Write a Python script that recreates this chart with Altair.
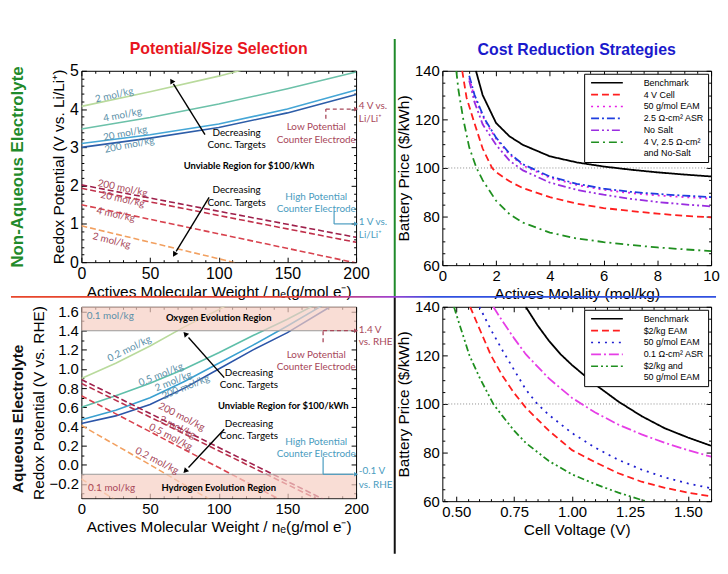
import math
import numpy as np
import pandas as pd
import altair as alt

FONT = "Liberation Sans"
SANS = "Liberation Sans"
AFONT = "Lato"

# ---------------- top-left: non-aqueous electrolyte ----------------
na_solid_names = ["2 mol/kg", "4 mol/kg", "20 mol/kg", "200 mol/kg"]
na_solid_x = [[0, 50, 100, 120], [0, 50, 100, 150, 200], [0, 50, 100, 150, 200], [0, 50, 100, 150, 200]]
na_solid_y = [[4.07, 4.45, 4.86, 5.05], [3.48, 3.78, 4.13, 4.53, 4.97],
              [3.10, 3.33, 3.61, 4.00, 4.50], [3.00, 3.24, 3.52, 3.90, 4.38]]
na_solid_colors = ["#b9da9c", "#6cc1a9", "#45a6d6", "#2d5da8"]

na_dash_names = ["200 mol/kg", "20 mol/kg", "4 mol/kg", "2 mol/kg"]
na_dash_x = [[0, 100, 200], [0, 100, 200], [0, 100, 200], [0, 50, 100, 120]]
na_dash_y = [[2.02, 1.33, 0.65], [1.93, 1.22, 0.52], [1.50, 0.74, -0.02], [0.95, 0.52, 0.09, -0.09]]
na_dash_colors = ["#9e1f4a", "#c0304a", "#d8424e", "#f2a060"]

na_lab_text = ["2 mol/kg", "4 mol/kg", "20 mol/kg", "200 mol/kg",
               "200 mol/kg", "20 mol/kg", "4 mol/kg", "2 mol/kg"]
na_lab_x = [24, 30, 32, 35, 30, 30, 25, 22]
na_lab_y = [4.36, 3.84, 3.36, 3.06, 1.93, 1.64, 1.24, 0.56]
na_lab_angle = [347, 349, 349, 349, 12, 12, 12, 14]

# ---------------- bottom-left: aqueous electrolyte ----------------
aq_solid_x = [[0, 25, 50, 75, 100, 110],
              [0, 25, 50, 75, 100, 125, 150, 170],
              [0, 25, 50, 75, 100, 125, 150, 175],
              [0, 25, 50, 75, 100, 125, 150, 180]]
aq_solid_y = [[0.90, 1.06, 1.24, 1.44, 1.62, 1.70],
              [0.60, 0.72, 0.85, 1.00, 1.17, 1.35, 1.52, 1.67],
              [0.47, 0.57, 0.70, 0.87, 1.06, 1.25, 1.45, 1.66],
              [0.43, 0.51, 0.63, 0.80, 1.00, 1.20, 1.38, 1.64]]
aq_solid_colors = ["#b9da9c", "#5fbfaa", "#3aa0d0", "#2b55a8"]

aq_dash_x = [[0, 100, 200], [0, 100, 200], [0, 100, 200], [0, 50, 100], [0, 25]]
aq_dash_y = [[0.89, 0.18, -0.53], [0.85, 0.145, -0.56], [0.72, -0.03, -0.78],
             [0.41, 0.0, -0.42], [-0.15, -0.37]]
aq_dash_colors = ["#9e1f4a", "#b8304c", "#d8424e", "#f2a060", "#f5b070"]

aq_lab_text = ["0.1 mol/kg", "0.2 mol/kg", "0.5 mol/kg", "2 mol/kg", "200 mol/kg",
               "200 mol/kg", "2 mol/kg", "0.5 mol/kg", "0.2 mol/kg", "0.1 mol/kg"]
aq_lab_x = [21, 35, 58, 67, 76, 73, 70, 65, 55, 22]
aq_lab_y = [1.55, 1.21, 0.94, 0.87, 0.81, 0.50, 0.39, 0.29, 0.04, -0.24]
aq_lab_angle = [0, 334, 338, 338, 338, 27, 27, 27, 27, 0]

# ---------------- top-right: cost reduction vs molality ----------------
tr_names = ["Benchmark", "4 V Cell", "50 g/mol EAM", "2.5 Ω-cm² ASR", "No Salt",
            "4 V, 2.5 Ω-cm²|and No-Salt"]
tr_x = [[1.25, 1.5, 2, 2.5, 3, 4, 5, 6, 7, 8, 9, 10],
        [0.74, 0.9, 1.15, 1.5, 1.85, 2, 2.5, 3, 4, 5, 6, 7, 8, 9, 10],
        [1.0, 1.2, 1.58, 2, 2.5, 3, 4, 5, 6, 7, 8, 9, 10],
        [1.0, 1.2, 1.58, 2, 2.5, 3, 4, 5, 6, 7, 8, 9, 10],
        [1.0, 1.2, 1.5, 2, 2.5, 3, 4, 5, 6, 7, 8, 9, 10],
        [0.52, 0.6, 0.78, 1.0, 1.27, 1.5, 2, 2.5, 3, 4, 5, 6, 7, 8, 9, 10]]
tr_y = [[140, 130, 118.5, 113, 109.5, 104.8, 102.3, 100.6, 99.3, 98.2, 97.3, 96.5],
        [140, 129, 120, 108, 100, 98.3, 94.5, 91.7, 88, 85.3, 83.5, 82.3, 81.2, 80.3, 79.7],
        [137, 129, 119.5, 112, 105.5, 101, 96, 93, 91, 89.7, 88.7, 88, 87.4],
        [138, 130, 120, 112.5, 106, 101.5, 96.5, 93.5, 91.5, 90.2, 89.3, 88.6, 88],
        [136, 127, 118, 109.5, 103, 99, 94, 91, 89, 87.3, 86, 85, 84.2],
        [140, 132, 120, 108.5, 100, 95, 86.5, 81, 77.5, 73.4, 71, 69.5, 68.3, 67.3, 66.5, 65.8]]
tr_colors = ["#000000", "#ff1f1f", "#e61ee6", "#1f3fdf", "#9a2de0", "#1f8f1f"]
tr_dashes = [[1, 0], [7, 4], [2, 4], [8, 3, 2, 3], [8, 3, 2, 3, 2, 3], [8, 4, 2, 4]]

# ---------------- bottom-right: cost vs cell voltage ----------------
br_names = ["Benchmark", "$2/kg EAM", "50 g/mol EAM", "0.1 Ω-cm² ASR", "$2/kg and|50 g/mol EAM"]
br_x = [[0.80, 0.85, 0.9, 0.95, 1.0, 1.1, 1.2, 1.3, 1.4, 1.5, 1.6],
        [0.56, 0.6, 0.65, 0.7, 0.75, 0.8, 0.9, 1.0, 1.1, 1.2, 1.3, 1.4, 1.5, 1.6],
        [0.6, 0.65, 0.7, 0.75, 0.8, 0.85, 0.9, 1.0, 1.1, 1.2, 1.3, 1.4, 1.5, 1.6],
        [0.66, 0.7, 0.75, 0.8, 0.9, 1.0, 1.1, 1.2, 1.3, 1.4, 1.5, 1.6],
        [0.49, 0.52, 0.557, 0.6, 0.66, 0.7, 0.75, 0.8, 0.9, 1.0, 1.1, 1.2, 1.3, 1.35]]
br_y = [[140, 132.5, 126, 120.5, 116, 108, 101, 95, 90, 86.2, 82.8],
        [140, 131, 120, 111.5, 104.5, 98.5, 89, 81, 76, 71.5, 68, 65.5, 63.5, 62],
        [140, 130.5, 122, 114, 106, 100, 95.5, 88, 82, 77, 73, 69.8, 67.3, 65.3],
        [140, 134, 127, 120.5, 110.5, 102.5, 96.5, 91.5, 87.5, 84, 81, 78.3],
        [140, 131, 120, 111, 100, 95, 89, 84, 76.5, 71, 67, 63.5, 60.5, 59]]
br_colors = ["#000000", "#ff1f1f", "#1f1fd0", "#e63ee6", "#1f8f1f"]
br_dashes = [[1, 0], [7, 4], [2, 5], [10, 3, 2, 3], [7, 3, 2, 3, 2, 3]]


# ---------------- helpers ----------------
def rng(a, b, step):
    return [round(float(v), 6) for v in np.arange(a, b + step / 2, step)]


def make_axis(majors, minors, fmt, orient, title=None, labels=True, lsize=15, pad=8, tpad=2):
    vals = sorted({round(float(v), 6) for v in list(majors) + list(minors)})
    arr = "[" + ",".join(repr(round(float(m), 6)) for m in majors) + "]"
    test = f"indexof({arr}, datum.value) >= 0"
    kw = dict(orient=orient, values=vals, domain=False, grid=False, ticks=True,
              tickColor="black", tickWidth=1,
              tickSize={"condition": {"test": test, "value": -5}, "value": -2.5},
              labels=labels, labelOverlap=False, labelFlush=False, title=title)
    if labels:
        kw.update(labelExpr=f"{test} ? format(datum.value, '{fmt}') : ''", labelFont=FONT,
                  labelFontSize=lsize, labelColor="black", labelPadding=pad)
    if title:
        kw.update(titleFont=FONT, titleFontSize=15.5, titleFontWeight="normal", titleColor="black",
                  titlePadding=tpad)
    return alt.Axis(**kw)


def frame_layers(xsc, ysc, xmaj, xmin, ymaj, ymin, xfmt, yfmt, xtitle, ytitle, lsize, x0, y0,
                 xpad=8, ypad=8, xtpad=1, ytpad=3):
    base = alt.Chart(pd.DataFrame({"x": [x0], "y": [y0]})).mark_point(opacity=0)
    main = base.encode(
        x=alt.X("x:Q", scale=xsc, axis=make_axis(xmaj, xmin, xfmt, "bottom", xtitle, True, lsize, xpad, xtpad)),
        y=alt.Y("y:Q", scale=ysc, axis=make_axis(ymaj, ymin, yfmt, "left", ytitle, True, lsize, ypad, ytpad)))
    mirror = base.encode(
        x=alt.X("x:Q", scale=xsc, axis=make_axis(xmaj, xmin, xfmt, "top", None, False)),
        y=alt.Y("y:Q", scale=ysc, axis=make_axis(ymaj, ymin, yfmt, "right", None, False)))
    return [main, mirror]


def line_layer(xs, ys, color, dash, xsc, ysc, width=1.4):
    props = dict(color=color, strokeWidth=width, clip=True)
    if dash:
        props["strokeDash"] = dash
    return alt.Chart(pd.DataFrame({"x": xs, "y": ys})).mark_line(**props).encode(
        x=alt.X("x:Q", scale=xsc, axis=None), y=alt.Y("y:Q", scale=ysc, axis=None))


def text_layer(xs, ys, texts, colors, angles, xsc, ysc, size=10, weight="normal", align="center",
               font=AFONT):
    df = pd.DataFrame({"x": xs, "y": ys, "t": texts, "c": colors, "a": angles})
    return alt.Chart(df).mark_text(font=font, fontSize=size, fontWeight=weight, align=align,
                                   baseline="middle").encode(
        x=alt.X("x:Q", scale=xsc, axis=None), y=alt.Y("y:Q", scale=ysc, axis=None),
        text="t:N", color=alt.Color("c:N", scale=None), angle=alt.Angle("a:Q", scale=None))


def seg_layer(x1, y1, x2, y2, color, xsc, ysc, dash=None, width=1.3):
    props = dict(color=color, strokeWidth=width)
    if dash:
        props["strokeDash"] = dash
    df = pd.DataFrame({"x": x1, "y": y1, "x2": x2, "y2": y2})
    return alt.Chart(df).mark_rule(**props).encode(
        x=alt.X("x:Q", scale=xsc, axis=None), y=alt.Y("y:Q", scale=ysc, axis=None),
        x2="x2:Q", y2="y2:Q")


def head_layer(xs, ys, angles, color, xsc, ysc, size=30):
    df = pd.DataFrame({"x": xs, "y": ys, "a": angles})
    return alt.Chart(df).mark_point(shape="triangle", filled=True, size=size, color=color,
                                    opacity=1, strokeWidth=0).encode(
        x=alt.X("x:Q", scale=xsc, axis=None), y=alt.Y("y:Q", scale=ysc, axis=None),
        angle=alt.Angle("a:Q", scale=None))


def head_angle(x1, y1, x2, y2, sx, sy):
    dx = (x2 - x1) * sx
    dys = -(y2 - y1) * sy
    return math.degrees(math.atan2(dx, -dys)) % 360


# ---------------- sizes ----------------
WL, HL = 277, 193
WR, HR = 271, 196

# ================= TOP-LEFT =================
xs_tl = alt.Scale(domain=[0, 200], nice=False, zero=False)
ys_tl = alt.Scale(domain=[0, 5], nice=False, zero=False)
sx_tl, sy_tl = WL / 200, HL / 5

tl_layers = frame_layers(xs_tl, ys_tl, rng(0, 200, 50), rng(0, 200, 10), rng(0, 5, 1), rng(0, 5, 0.2),
                         "d", "d", "Actives Molecular Weight / nₑ(g/mol e⁻)",
                         "Redox Potential (V vs. Li/Li⁺)", 16, 100, 2.5)
for xs_, ys_, c in zip(na_solid_x, na_solid_y, na_solid_colors):
    tl_layers.append(line_layer(xs_, ys_, c, None, xs_tl, ys_tl, 1.6))
for xs_, ys_, c in zip(na_dash_x, na_dash_y, na_dash_colors):
    tl_layers.append(line_layer(xs_, ys_, c, [6, 3], xs_tl, ys_tl, 1.6))
tl_layers.append(text_layer(na_lab_x, na_lab_y, na_lab_text,
                            ["#5a8fa8"] * 4 + ["#a8485a"] * 4, na_lab_angle, xs_tl, ys_tl, 10))
tl_layers.append(text_layer([113, 113, 113, 113], [3.38, 3.07, 1.88, 1.55],
                            ["Decreasing", "Conc. Targets", "Decreasing", "Conc. Targets"],
                            ["black"] * 4, [0] * 4, xs_tl, ys_tl, 10))
tl_layers.append(text_layer([122], [2.52], ["Unviable Region for $100/kWh"], ["black"], [0],
                            xs_tl, ys_tl, 9.5, "bold"))
tl_layers.append(text_layer([171, 171, 171, 171], [3.52, 3.18, 1.69, 1.38],
                            ["Low Potential", "Counter Electrode", "High Potential", "Counter Electrode"],
                            ["#a8485a", "#a8485a", "#4a9cc0", "#4a9cc0"], [0] * 4, xs_tl, ys_tl, 10))
tl_layers.append(text_layer([202, 202, 202, 202], [4.07, 3.75, 1.05, 0.72],
                            ["4 V vs.", "Li/Li⁺", "1 V vs.", "Li/Li⁺"],
                            ["#a8485a", "#a8485a", "#4a9cc0", "#4a9cc0"], [0] * 4, xs_tl, ys_tl, 10,
                            align="left"))
tl_layers.append(seg_layer([90, 93], [3.33, 1.69], [67, 69], [4.66, 0.28], "black", xs_tl, ys_tl, width=1.4))
tl_layers.append(head_layer([66, 68], [4.72, 0.22],
                            [head_angle(90, 3.33, 66, 4.72, sx_tl, sy_tl),
                             head_angle(93, 1.69, 68, 0.22, sx_tl, sy_tl)], "black", xs_tl, ys_tl, 35))
tl_layers.append(seg_layer([178, 178], [3.75, 4.0], [178, 198], [4.0, 4.0], "#a8485a", xs_tl, ys_tl,
                           dash=[4, 3], width=1.3))
tl_layers.append(seg_layer([184, 184], [1.33, 1.0], [184, 198], [1.0, 1.0], "#4a9cc0", xs_tl, ys_tl,
                           width=1.2))
tl_layers.append(head_layer([199.5], [4.0], [90], "#a8485a", xs_tl, ys_tl, 22))
tl_layers.append(head_layer([199.5], [1.0], [90], "#4a9cc0", xs_tl, ys_tl, 22))

one = pd.DataFrame({"t": ["Non-Aqueous Electrolyte"]})
tl_layers.append(alt.Chart(one).mark_text(angle=270, font=SANS, fontSize=17, fontWeight="bold",
                                          color="#1f8a2a").encode(
    text="t:N", x=alt.value(-64), y=alt.value(97)))

TL = alt.layer(*tl_layers).resolve_axis(x="independent", y="independent").properties(
    width=WL, height=HL,
    title=alt.Title("Potential/Size Selection", color="#e8161e", font=FONT, fontSize=16,
                    fontWeight="bold", offset=6, frame="group"))

# ================= BOTTOM-LEFT =================
xs_bl = alt.Scale(domain=[0, 200], nice=False, zero=False)
ys_bl = alt.Scale(domain=[-0.35, 1.65], nice=False, zero=False)
sx_bl, sy_bl = WL / 200, HL / 2.0

bl_layers = frame_layers(xs_bl, ys_bl, rng(0, 200, 50), rng(0, 200, 10), rng(-0.2, 1.6, 0.2),
                         rng(-0.3, 1.6, 0.1), "d", ".1f", "Actives Molecular Weight / nₑ(g/mol e⁻)",
                         "Redox Potential (V vs. RHE)", 15, 100, 0.5)
for xs_, ys_, c in zip(aq_solid_x, aq_solid_y, aq_solid_colors):
    bl_layers.append(line_layer(xs_, ys_, c, None, xs_bl, ys_bl, 1.6))
for xs_, ys_, c in zip(aq_dash_x, aq_dash_y, aq_dash_colors):
    bl_layers.append(line_layer(xs_, ys_, c, [6, 3], xs_bl, ys_bl, 1.6))
reg = pd.DataFrame({"x": [0, 0], "x2": [200, 200], "y": [1.4, -0.35], "y2": [1.65, -0.1]})
bl_layers.append(alt.Chart(reg).mark_rect(fill="#f7cfc3", opacity=0.7).encode(
    x=alt.X("x:Q", scale=xs_bl, axis=None), x2="x2:Q",
    y=alt.Y("y:Q", scale=ys_bl, axis=None), y2="y2:Q"))
bl_layers.append(alt.Chart(pd.DataFrame({"y": [1.4, -0.1]})).mark_rule(color="#9a9a9a", strokeWidth=1.2).encode(
    y=alt.Y("y:Q", scale=ys_bl, axis=None)))
bl_layers.append(text_layer(aq_lab_x, aq_lab_y, aq_lab_text,
                            ["#5a8fa8"] * 5 + ["#a8485a"] * 5, aq_lab_angle, xs_bl, ys_bl, 10))
bl_layers.append(text_layer([100, 100, 147], [1.53, -0.24, 0.61],
                            ["Oxygen Evolution Region", "Hydrogen Evolution Region",
                             "Unviable Region for $100/kWh"],
                            ["black"] * 3, [0] * 3, xs_bl, ys_bl, 9.5, "bold"))
bl_layers.append(text_layer([122, 122, 122, 122], [0.955, 0.83, 0.42, 0.30],
                            ["Decreasing", "Conc. Targets", "Decreasing", "Conc. Targets"],
                            ["black"] * 4, [0] * 4, xs_bl, ys_bl, 10))
bl_layers.append(text_layer([171, 171, 171, 171], [1.15, 1.02, 0.24, 0.11],
                            ["Low Potential", "Counter Electrode", "High Potential", "Counter Electrode"],
                            ["#a8485a", "#a8485a", "#4a9cc0", "#4a9cc0"], [0] * 4, xs_bl, ys_bl, 10))
bl_layers.append(text_layer([202, 202, 202, 202], [1.41, 1.28, -0.07, -0.21],
                            ["1.4 V", "vs. RHE", "-0.1 V", "vs. RHE"],
                            ["#a8485a", "#a8485a", "#4a9cc0", "#4a9cc0"], [0] * 4, xs_bl, ys_bl, 10,
                            align="left"))
bl_layers.append(seg_layer([104, 104], [0.91, 0.37], [78, 78], [1.33, -0.03], "black", xs_bl, ys_bl,
                           width=1.4))
bl_layers.append(head_layer([76, 76], [1.36, -0.06],
                            [head_angle(104, 0.91, 76, 1.36, sx_bl, sy_bl),
                             head_angle(104, 0.37, 76, -0.06, sx_bl, sy_bl)], "black", xs_bl, ys_bl, 35))
bl_layers.append(seg_layer([176, 176], [1.28, 1.4], [176, 198], [1.4, 1.4], "#a8485a", xs_bl, ys_bl,
                           dash=[4, 3], width=1.3))
bl_layers.append(seg_layer([176, 176], [0.08, -0.1], [176, 198], [-0.1, -0.1], "#4a9cc0", xs_bl, ys_bl,
                           width=1.2))
bl_layers.append(head_layer([199.5], [1.4], [90], "#a8485a", xs_bl, ys_bl, 22))
bl_layers.append(head_layer([199.5], [-0.1], [90], "#4a9cc0", xs_bl, ys_bl, 22))
one2 = pd.DataFrame({"t": ["Aqueous Electrolyte"]})
bl_layers.append(alt.Chart(one2).mark_text(angle=270, font=SANS, fontSize=15.5, fontWeight="bold",
                                           color="#111111").encode(
    text="t:N", x=alt.value(-64), y=alt.value(113)))
# dividers (decoration, pixel placed relative to this panel)
bl_layers.append(alt.Chart(one2).mark_rule(color="#1f8a2a", strokeWidth=2).encode(
    x=alt.value(316), y=alt.value(-270), y2=alt.value(-10)))
bl_layers.append(alt.Chart(one2).mark_rule(color="#111111", strokeWidth=2).encode(
    x=alt.value(316), y=alt.value(-10), y2=alt.value(249)))
grad = alt.Gradient(gradient="linear", x1=0, x2=1, y1=0, y2=0,
                    stops=[alt.GradientStop(color="#e8462a", offset=0),
                           alt.GradientStop(color="#e0403a", offset=0.40),
                           alt.GradientStop(color="#a040d0", offset=0.54),
                           alt.GradientStop(color="#3050e0", offset=0.60),
                           alt.GradientStop(color="#3050e0", offset=1)])
bl_layers.append(alt.Chart(one2).mark_rect(fill=grad).encode(
    x=alt.value(-71), x2=alt.value(640), y=alt.value(-11), y2=alt.value(-9)))

BL = alt.layer(*bl_layers).resolve_axis(x="independent", y="independent").properties(
    width=WL, height=HL)


# ================= RIGHT PANELS =================
def long_df(names, xs, ys):
    rows = []
    for n, xx, yy in zip(names, xs, ys):
        for a, b in zip(xx, yy):
            rows.append({"series": n, "x": a, "y": b})
    return pd.DataFrame(rows)


def legend():
    return alt.Legend(title=None, orient="top-right", offset=3, strokeColor="black", fillColor="white",
                      padding=4, labelFont=SANS, labelFontSize=9, labelColor="black",
                      symbolType="M-4,0L4,0", symbolSize=64, symbolStrokeWidth=1.6, symbolOffset=14,
                      labelOffset=32, rowPadding=2, labelExpr="split(datum.label, '|')",
                      cornerRadius=0)


def right_panel(names, xs, ys, colors, dashes, xsc, ysc, frame, title=None):
    df = long_df(names, xs, ys)
    lines = alt.Chart(df).mark_line(strokeWidth=1.8, clip=True).encode(
        x=alt.X("x:Q", scale=xsc, axis=None), y=alt.Y("y:Q", scale=ysc, axis=None),
        color=alt.Color("series:N", scale=alt.Scale(domain=names, range=colors), legend=legend()),
        strokeDash=alt.StrokeDash("series:N", scale=alt.Scale(domain=names, range=dashes), legend=legend()),
        detail="series:N")
    ref = alt.Chart(pd.DataFrame({"y": [100]})).mark_rule(color="#8a8a8a", strokeDash=[1, 2],
                                                          strokeWidth=1).encode(
        y=alt.Y("y:Q", scale=ysc, axis=None))
    ch = alt.layer(*frame, ref, lines).resolve_axis(x="independent", y="independent")
    props = dict(width=WR, height=HR)
    if title is not None:
        props["title"] = title
    return ch.properties(**props)


xs_tr = alt.Scale(domain=[0, 10], nice=False, zero=False)
ys_tr = alt.Scale(domain=[60, 140], nice=False, zero=False)
tr_frame = frame_layers(xs_tr, ys_tr, rng(0, 10, 2), rng(0, 10, 0.5), rng(60, 140, 20), rng(60, 140, 5),
                        "d", "d", "Actives Molality (mol/kg)", "Battery Price ($/kWh)", 15, 5, 100)
TR = right_panel(tr_names, tr_x, tr_y, tr_colors, tr_dashes, xs_tr, ys_tr, tr_frame,
                 alt.Title("Cost Reduction Strategies", color="#1a1acc", font=FONT, fontSize=16,
                           fontWeight="bold", offset=6, frame="group"))

xs_br = alt.Scale(domain=[0.44, 1.6], nice=False, zero=False)
ys_br = alt.Scale(domain=[60, 140], nice=False, zero=False)
br_frame = frame_layers(xs_br, ys_br, rng(0.5, 1.5, 0.25), rng(0.45, 1.6, 0.05), rng(60, 140, 20),
                        rng(60, 140, 5), ".2f", "d", "Cell Voltage (V)", "Battery Price ($/kWh)", 15,
                        1.0, 100)
BR = right_panel(br_names, br_x, br_y, br_colors, br_dashes, xs_br, ys_br, br_frame)

chart = alt.concat(TL, TR, BL, BR, columns=2, spacing={"row": 42, "column": 87}, bounds="flush").resolve_scale(
    color="independent", strokeDash="independent").properties(
    padding={"left": 0, "top": 27, "right": 0, "bottom": 0}, background="white").configure_view(
    stroke="black", strokeWidth=1)

chart.save("out.html", embed_options={"renderer": "svg", "actions": False})
